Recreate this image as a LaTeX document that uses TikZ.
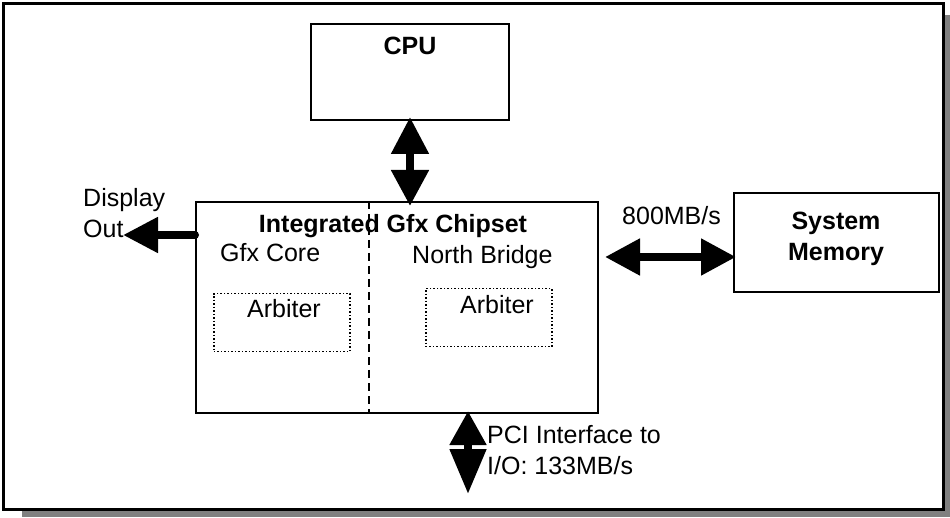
\documentclass[tikz,border=0pt]{standalone}
\usepackage{fontspec}
\setmainfont{Liberation Sans}
\usetikzlibrary{arrows.meta}
\definecolor{shadowgray}{RGB}{128,128,128}
\tikzset{
  box/.style={draw=black, line width=2pt, fill=white, inner sep=0pt, anchor=north west},
  arbbox/.style={draw=black, line width=1.5pt, dotted, inner sep=0pt, anchor=north west},
  txt/.style={inner sep=0pt, anchor=base, font=\fontsize{25}{31}\selectfont},
  btxt/.style={txt, font=\fontsize{25}{31}\selectfont\bfseries},
  bigarrow/.style={line width=8pt, draw=black},
}
\begin{document}
\begin{tikzpicture}[x=1pt,y=-1pt]
\useasboundingbox (0,0) rectangle (950,518);
% shadow and frame
\fill[shadowgray] (22,15) rectangle (950,517);
\draw[line width=3pt, fill=white] (3,4) rectangle (943,509);
% boxes
\node[box, minimum width=198pt, minimum height=96pt] (cpu) at (310,23) {};
\node[box, minimum width=402pt, minimum height=211pt] (chip) at (195,201) {};
\node[box, minimum width=205pt, minimum height=99pt] (mem) at (733,192) {};
\node[arbbox, minimum width=136pt, minimum height=58pt] (arbL) at (213,293) {};
\node[arbbox, minimum width=126pt, minimum height=58pt] (arbR) at (425,288) {};
% divider
\draw[line width=2pt, dash pattern=on 8pt off 5pt] ([xshift=-28pt]chip.north) -- ([xshift=-28pt]chip.south);
% texts
\node[btxt] (cputxt) at (410,55) {CPU};
\node[btxt] (chiptxt) at (393,233) {Integrated Gfx Chipset};
\node[txt, anchor=base west] (gfx) at (220,262) {Gfx Core};
\node[txt, anchor=base west] (nb) at (412,264) {North Bridge};
\node[txt] (arbLt) at (284,318) {Arbiter};
\node[txt] (arbRt) at (497,314) {Arbiter};
\node[btxt, align=center, anchor=north] (memtxt) at (836,212) {System\\Memory};
\node[txt, anchor=base west] (bw) at (622,225) {800MB/s};
\node[txt, align=left, anchor=north west] (disp) at (83,188) {Display\\Out};
\node[txt, align=left, anchor=north west] (pci) at (487,425) {PCI Interface to\\I/O: 133MB/s};
% arrows
\draw[bigarrow, {Triangle[length=37pt,width=36pt]}-{Triangle[length=36pt,width=36pt]}]
  ([yshift=4pt]cpu.south -| 410,0) -- ([yshift=-5pt]chip.north -| 410,0);
\coordinate (dispend) at (123,235);
\draw[bigarrow, line cap=round, -{Triangle[length=35pt,width=34pt]}]
  (chip.west |- 0,235) -- (dispend);
\draw[bigarrow, {Triangle[length=35pt,width=35pt]}-{Triangle[length=35pt,width=35pt]}]
  ([xshift=6pt]chip.east |- 0,257) -- ([xshift=3pt]mem.west |- 0,257);
\coordinate (pciend) at (468,494);
\draw[bigarrow, {Triangle[length=34pt,width=35pt]}-{Triangle[length=45pt,width=35pt]}]
  ([yshift=3pt]chip.south -| 468,0) -- (pciend);
\end{tikzpicture}
\end{document}
